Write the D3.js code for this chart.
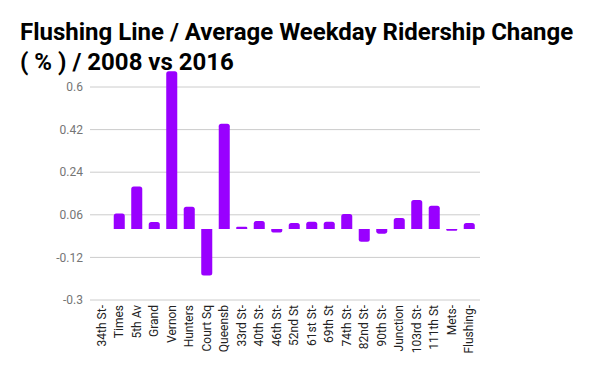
<!DOCTYPE html>
<html>
<head>
<meta charset="utf-8">
<script src="https://cdn.jsdelivr.net/npm/d3@7"></script>
<style>
  body { margin: 0; background: #fff; }
  svg { display: block; font-family: Roboto, sans-serif; }
</style>
</head>
<body>
<div id="chart"></div>
<script>
var stations = ["34th St-", "Times", "5th Av", "Grand", "Vernon", "Hunters", "Court Sq", "Queensb",
    "33rd St-", "40th St-", "46th St-", "52nd St", "61st St-", "69th St", "74th St-", "82nd St-",
    "90th St-", "Junction", "103rd St-", "111th St", "Mets-", "Flushing-"];
var change = [0, 0.066, 0.18, 0.03, 0.667, 0.094, -0.197, 0.445,
    0.01, 0.034, -0.015, 0.025, 0.031, 0.031, 0.063, -0.054,
    -0.02, 0.046, 0.123, 0.098, -0.007, 0.025];
var yTicks = [-0.3, -0.12, 0.06, 0.24, 0.42, 0.6];

var width = 600, height = 371;

var svg = d3.select("#chart")
    .append("svg")
        .attr("width", width)
        .attr("height", height);

// Title
var title = svg.append("text")
    .attr("x", 20)
    .attr("y", 40)
    .style("font-size", "24px")
    .style("font-weight", "bold")
    .style("fill", "#000");
title.append("tspan").attr("x", 20).text("Flushing Line / Average Weekday Ridership Change");
title.append("tspan").attr("x", 20).attr("dy", 30).text("( % ) / 2008 vs 2016");

var x = d3.scaleBand()
    .domain(stations)
    .range([93, 478])
    .paddingInner(0.37)
    .paddingOuter(0.185);

var y = d3.scaleLinear()
    .domain([-0.3, 0.6])
    .range([300, 87]);

// Gridlines
svg.append("g")
    .selectAll("line")
    .data(yTicks)
    .enter()
    .append("line")
        .attr("x1", 90)
        .attr("x2", 480)
        .attr("y1", function(d) { return y(d); })
        .attr("y2", function(d) { return y(d); })
        .style("stroke", "#cccccc")
        .style("stroke-width", 1);

// Y tick labels
svg.append("g")
    .selectAll("text")
    .data(yTicks)
    .enter()
    .append("text")
        .attr("x", 83)
        .attr("y", function(d) { return y(d); })
        .attr("dy", "0.35em")
        .style("text-anchor", "end")
        .style("font-size", "12px")
        .style("fill", "#757575")
        .text(function(d) { return d; });

// Bars with rounded outer corners
function barPath(d, i) {
    var x0 = x(stations[i]), w = x.bandwidth();
    var y0 = y(0), y1 = y(d);
    var h = Math.abs(y1 - y0);
    var r = Math.min(2.5, h / 2, w / 2);
    if (h < 0.01) return "";
    if (d >= 0) {
        return "M" + x0 + "," + y0 +
            "V" + (y1 + r) +
            "Q" + x0 + "," + y1 + " " + (x0 + r) + "," + y1 +
            "H" + (x0 + w - r) +
            "Q" + (x0 + w) + "," + y1 + " " + (x0 + w) + "," + (y1 + r) +
            "V" + y0 + "Z";
    }
    return "M" + x0 + "," + y0 +
        "V" + (y1 - r) +
        "Q" + x0 + "," + y1 + " " + (x0 + r) + "," + y1 +
        "H" + (x0 + w - r) +
        "Q" + (x0 + w) + "," + y1 + " " + (x0 + w) + "," + (y1 - r) +
        "V" + y0 + "Z";
}

svg.append("g")
    .selectAll("path")
    .data(change)
    .enter()
    .append("path")
        .attr("d", barPath)
        .style("fill", "#9900ff");

// X labels, rotated
svg.append("g")
    .selectAll("text")
    .data(stations)
    .enter()
    .append("text")
        .attr("transform", function(d) {
            return "translate(" + (x(d) + x.bandwidth() / 2) + ",305) rotate(-90)";
        })
        .attr("dy", "0.35em")
        .style("text-anchor", "end")
        .style("font-size", "12px")
        .style("fill", "#222")
        .text(function(d) { return d; });
</script>
</body>
</html>
